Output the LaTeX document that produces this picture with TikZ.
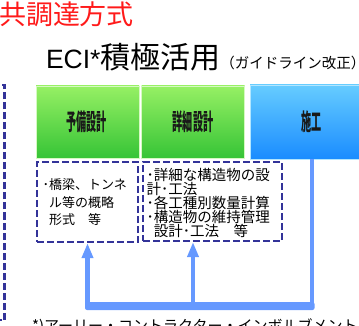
\documentclass[tikz,border=0pt]{standalone}
\usepackage{fontspec}
\setmainfont{Noto Sans CJK JP}
\newfontfamily\lat{Liberation Sans}
\newfontfamily\jpcond[FakeStretch=0.44]{Noto Sans CJK JP Black}
\usetikzlibrary{arrows.meta}
\definecolor{navy}{HTML}{333399}
\definecolor{arrowblue}{HTML}{6699FF}
\definecolor{gtop}{HTML}{96F064}
\definecolor{gbot}{HTML}{36C436}
\definecolor{btop}{HTML}{66CCFF}
\definecolor{bbot}{HTML}{1A8CFF}
\definecolor{titlered}{HTML}{FF1A1A}
\tikzset{
  greenbox/.style={draw=gtop!40!white, line width=0.8pt, top color=gtop, bottom color=gbot, minimum width=103pt, minimum height=72pt, inner sep=0pt},
  bluebox/.style={draw=btop!50!white, line width=0.8pt, top color=btop, bottom color=bbot, minimum width=124pt, minimum height=74pt, inner sep=0pt},
  phase/.style={inner sep=0pt, text=black!90, font=\jpcond\fontsize{23pt}{23pt}\selectfont},
  dashbox/.style={draw=navy, line width=2.2pt, dash pattern=on 7pt off 3pt, inner sep=0pt},
  conn/.style={draw=arrowblue, line width=4.5pt},
  tip/.style={-{Triangle[width=11pt,length=15pt]}},
  plain/.style={inner sep=0pt, outer sep=0pt}
}
\begin{document}
\begin{tikzpicture}[x=1pt, y=-1pt]
\useasboundingbox (0,0) rectangle (359,326);
% title
\node[plain, anchor=base west, text=titlered, font=\fontsize{27pt}{27pt}\selectfont] (title) at (-1,25) {共調達方式};
\node[plain, anchor=base west] (eci) at (46,69) {{\lat\fontsize{26.5pt}{27pt}\selectfont ECI*}{\fontsize{30pt}{30pt}\selectfont 積極活用}{\fontsize{14.5pt}{15pt}\selectfont （ガイドライン改正）}};
% left cut box
\draw[dashbox] (-60,85) rectangle (4.5,320);
% phase boxes
\node[greenbox] (g1) at (87.5,122) {};
\node[greenbox] (g2) at (193,122) {};
\node[bluebox] (b) at (312,122) {};
\node[phase] (t1) at (86.5,122) {予備設計};
\node[phase] (t2) at (193,122) {詳細設計};
\node[phase] (t3) at (311.5,122) {施工};
% dashed detail boxes
\node[dashbox, minimum width=101pt, minimum height=80pt] (da) at (87.5,202) {};
\node[dashbox, minimum width=139pt, minimum height=79pt] (db) at (212.5,201.5) {};
\node[plain, anchor=west, align=left, font=\fontsize{13pt}{17.5pt}\selectfont] (ta) at (42.5,202.5) {･橋梁、トンネ\\\phantom{･}ル等の概略\\\phantom{･}形式　等};
\node[plain, anchor=west, align=left, font=\fontsize{14.5pt}{14.2pt}\selectfont] (tb) at (146.5,203) {･詳細な構造物の設\\計･工法\\･各工種別数量計算\\･構造物の維持管理\\\phantom{･}設計･工法　等};
% connectors
\fill[arrowblue, rounded corners=2pt] (85,302) rectangle (314.5,310);
\coordinate (j1) at (87.5,306);
\coordinate (j2) at (193,306);
\coordinate (j3) at (312,306);
\draw[conn, tip] (j1) -- (da.south);
\draw[conn, tip] (j2) -- (j2 |- db.south);
\draw[conn] (b.south) -- (j3);
% footnote
\node[plain, anchor=base west, font=\fontsize{15pt}{15pt}\selectfont] (fn) at (32,331) {*)アーリー・コントラクター・インボルブメント};
\end{tikzpicture}
\end{document}
